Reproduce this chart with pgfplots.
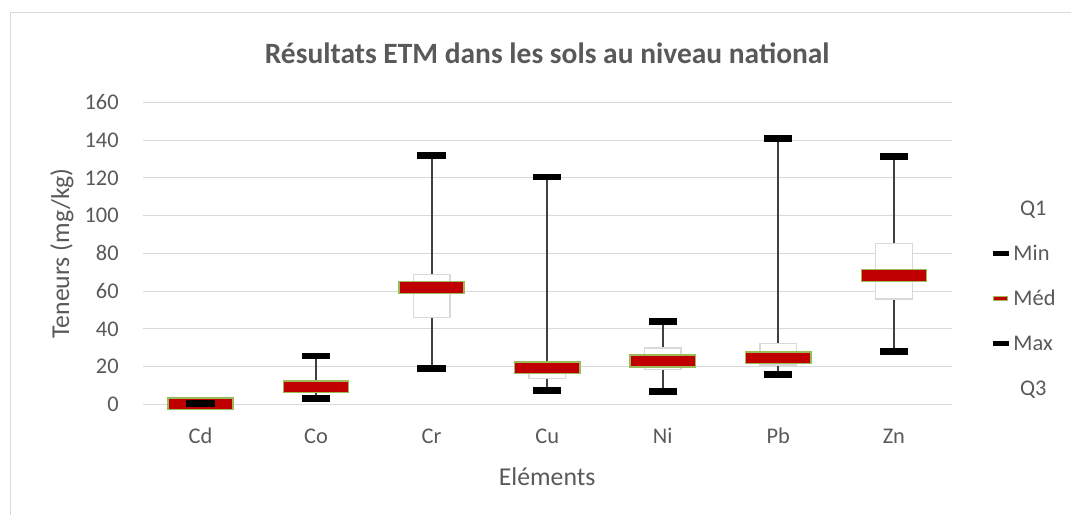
\documentclass[border=0pt]{standalone}
\usepackage{pgfplots}
\pgfplotsset{compat=1.18}
\usepgfplotslibrary{statistics}
\usepackage{fontspec}
\setmainfont{Carlito}
\definecolor{ctext}{HTML}{595959}
\definecolor{cgrid}{HTML}{D9D9D9}
\definecolor{cline}{HTML}{404040}
\definecolor{cred}{HTML}{C00000}
\definecolor{cgreen}{HTML}{9BBB59}
\definecolor{cbox}{HTML}{D9D9D9}
\pgfdeclareplotmark{medbar}{\pgfpathrectangle{\pgfqpoint{-24.45pt}{-4.45pt}}{\pgfqpoint{48.9pt}{8.9pt}}\pgfusepathqfillstroke}
\pgfdeclareplotmark{capbar}{\pgfpathrectangle{\pgfqpoint{-10.6pt}{-2.5pt}}{\pgfqpoint{21.2pt}{5pt}}\pgfusepathqfill}
\pgfplotsset{ebox/.style={forget plot, draw=cbox, fill=white, line width=1.1pt,
  boxplot/draw direction=y,
  boxplot/box extend=0.3176, boxplot/whisker extend=0,
  boxplot/every whisker/.style={draw=cline, line width=1.4pt},
  boxplot/draw/median/.code={}}}
\begin{document}
\begin{tikzpicture}
\path[use as bounding box] (0,0) rectangle (803.25pt,386.25pt);
\draw[cgrid, line width=0.75pt] (7.5pt,0pt) -- (7.5pt,376.5pt) -- (803.25pt,376.5pt);
\begin{axis}[
  at={(107pt,83pt)}, anchor=south west,
  scale only axis, width=606.75pt, height=226.5pt,
  xmin=0, xmax=7, ymin=0, ymax=160,
  ytick={0,20,...,160},
  xtick={0.5,1.5,2.5,3.5,4.5,5.5,6.5},
  xticklabels={Cd,Co,Cr,Cu,Ni,Pb,Zn},
  ymajorgrids, grid style={cgrid, line width=0.75pt},
  axis line style={draw=none}, major tick length=0pt,
  /pgf/number format/assume math mode=true,
  tick label style={font=\fontsize{16.8}{20}\selectfont, text=ctext},
  yticklabel style={anchor=east, inner sep=0pt, xshift=-17.8pt},
  xticklabel style={anchor=base, inner sep=0pt, yshift=-29.25pt},
  clip=false,
  title={\bfseries Résultats ETM dans les sols au niveau national},
  every axis title/.style={at={(0.5,1.129)}, anchor=base, font=\fontsize{22.1}{26}\selectfont, text=ctext, inner sep=0pt},
  xlabel={Eléments},
  xlabel style={at={(0.5,-0.2672)}, anchor=base, font=\fontsize{19.3}{23}\selectfont, text=ctext, inner sep=0pt},
  ylabel={Teneurs (mg/kg)},
  ylabel style={at={(-0.0998,0.5)}, anchor=center, font=\fontsize{19.3}{23}\selectfont, text=ctext, inner sep=0pt},
  legend style={at={(1.0507,0.674)}, anchor=north west, draw=none, fill=none, inner sep=0pt,
    row sep=22.95pt, column sep=3.75pt, font=\fontsize{16.8}{20}\selectfont, text=ctext,
    nodes={inner sep=0pt, text height=10.8pt, text depth=0pt}},
  legend cell align=left,
]
% Q1 - Q3 boxes and min-max lines
\addplot[ebox, boxplot prepared={draw direction=y, draw position=0.5, lower whisker=0.1, lower quartile=0.15, median=0.3, upper quartile=0.4, upper whisker=0.5}] coordinates {};
\addplot[ebox, boxplot prepared={draw direction=y, draw position=1.5, lower whisker=3.2, lower quartile=7, median=9.3, upper quartile=12, upper whisker=25.6}] coordinates {};
\addplot[ebox, boxplot prepared={draw direction=y, draw position=2.5, lower whisker=19.0, lower quartile=45.9, median=61.8, upper quartile=68.9, upper whisker=131.9}] coordinates {};
\addplot[ebox, boxplot prepared={draw direction=y, draw position=3.5, lower whisker=7.2, lower quartile=13.8, median=19.4, upper quartile=22, upper whisker=120.4}] coordinates {};
\addplot[ebox, boxplot prepared={draw direction=y, draw position=4.5, lower whisker=6.7, lower quartile=18.5, median=22.9, upper quartile=29.8, upper whisker=43.8}] coordinates {};
\addplot[ebox, boxplot prepared={draw direction=y, draw position=5.5, lower whisker=15.7, lower quartile=20.8, median=24.7, upper quartile=32.3, upper whisker=140.7}] coordinates {};
\addplot[ebox, boxplot prepared={draw direction=y, draw position=6.5, lower whisker=27.9, lower quartile=55.9, median=68.3, upper quartile=85.3, upper whisker=131.2}] coordinates {};
% Min
\addplot[forget plot, only marks, mark=capbar, mark options={fill=black}] coordinates {
  (0.5,0.1) (1.5,3.2) (2.5,19.0) (3.5,7.2) (4.5,6.7) (5.5,15.7) (6.5,27.9)};
% Med
\addplot[forget plot, only marks, mark=medbar, mark options={fill=cred, draw=cgreen, line width=1.1pt}] coordinates {
  (0.5,0.3) (1.5,9.3) (2.5,61.8) (3.5,19.4) (4.5,22.9) (5.5,24.7) (6.5,68.3)};
% Max
\addplot[forget plot, only marks, mark=capbar, mark options={fill=black}] coordinates {
  (0.5,0.5) (1.5,25.6) (2.5,131.9) (3.5,120.4) (4.5,43.8) (5.5,140.7) (6.5,131.2)};
% legend
\addlegendimage{legend image code/.code={\fill[white] (0pt,-1.5pt) rectangle (11.25pt,1.5pt);}}
\addlegendentry{\hspace*{5pt}Q1}
\addlegendimage{legend image code/.code={\fill[black] (0pt,-1.5pt) rectangle (11.25pt,1.5pt);}}
\addlegendentry{Min}
\addlegendimage{legend image code/.code={\draw[fill=cred, draw=cgreen, line width=0.7pt] (0.35pt,-1.5pt) rectangle (10.9pt,1.5pt);}}
\addlegendentry{Méd}
\addlegendimage{legend image code/.code={\fill[black] (0pt,-1.5pt) rectangle (11.25pt,1.5pt);}}
\addlegendentry{Max}
\addlegendimage{legend image code/.code={\fill[white] (0pt,-1.5pt) rectangle (11.25pt,1.5pt);}}
\addlegendentry{\hspace*{5pt}Q3}
\end{axis}
\end{tikzpicture}
\end{document}
